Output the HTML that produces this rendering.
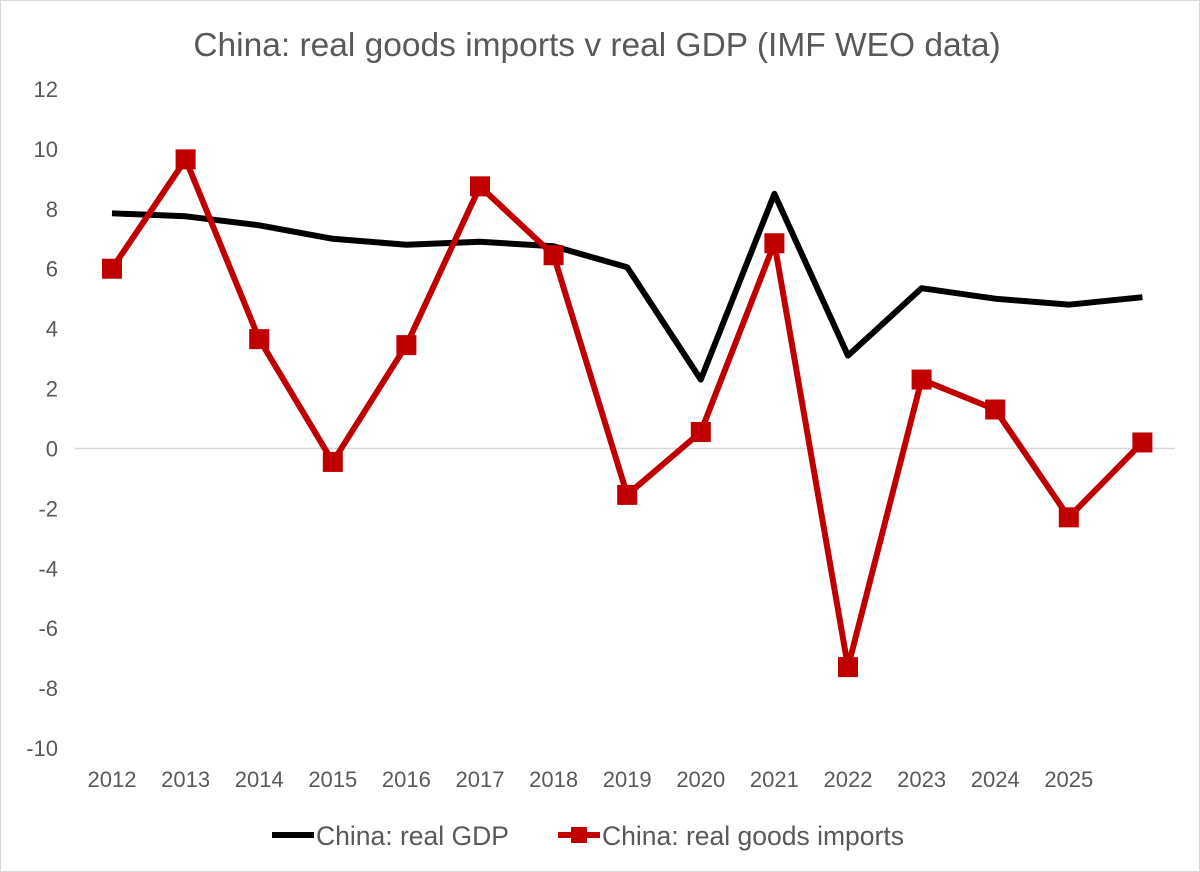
<!DOCTYPE html>
<html><head><meta charset="utf-8">
<style>
body{margin:0;background:#fff;}
svg{display:block;font-family:"Liberation Sans",Calibri,sans-serif;}
</style></head>
<body>
<svg id="chart" width="1200" height="872" viewBox="0 0 1200 872" xmlns="http://www.w3.org/2000/svg">
<rect x="0.5" y="0.5" width="1199" height="871" fill="#fff" stroke="#d9d9d9"/>
<text x="597" y="56" text-anchor="middle" font-size="33.5" fill="#595959">China: real goods imports v real GDP (IMF WEO data)</text>
<g id="grid"></g><g id="yticks"></g><g id="xticks"></g><g id="series"></g>
<g>
<line x1="272" y1="835" x2="314" y2="835" stroke="#000" stroke-width="6"/>
<text x="316" y="845" font-size="26.5" fill="#595959">China: real GDP</text>
<line x1="558" y1="835" x2="600" y2="835" stroke="#c00000" stroke-width="6"/>
<rect x="571" y="827" width="16" height="16" fill="#c00000"/>
<text x="602" y="845" font-size="26.5" fill="#595959">China: real goods imports</text>
</g>
</svg>
<script>
const years = [2012,2013,2014,2015,2016,2017,2018,2019,2020,2021,2022,2023,2024,2025,2026];
const xLabels = ["2012","2013","2014","2015","2016","2017","2018","2019","2020","2021","2022","2023","2024","2025"];
const gdp = [7.85,7.75,7.45,7.0,6.8,6.9,6.75,6.05,2.3,8.5,3.1,5.35,5.0,4.8,5.05];
const imports = [6.0,9.65,3.65,-0.45,3.45,8.75,6.45,-1.55,0.55,6.85,-7.3,2.3,1.3,-2.3,0.2];
const yTicks = [12,10,8,6,4,2,0,-2,-4,-6,-8,-10];

const NS="http://www.w3.org/2000/svg";
const x0=112, step=73.6, yMax=12, yMin=-10, yTop=89, yBot=748;
const xs=i=>x0+i*step;
const ys=v=>yTop+(yMax-v)/(yMax-yMin)*(yBot-yTop);
function mk(tag,attrs,parent){const e=document.createElementNS(NS,tag);for(const k in attrs)e.setAttribute(k,attrs[k]);document.getElementById(parent).appendChild(e);return e;}

const zl=mk('line',{x1:75,x2:1175,y1:ys(0),y2:ys(0),stroke:'#d9d9d9','stroke-width':1.5},'grid');



yTicks.forEach(v=>{
  const t=mk('text',{x:58,y:ys(v)+8,'text-anchor':'end','font-size':22,fill:'#595959'},'yticks');
  t.textContent=String(v);
  
  
});
xLabels.forEach((l,i)=>{
  const t=mk('text',{x:xs(i),y:787,'text-anchor':'middle','font-size':22,fill:'#595959'},'xticks');
  t.textContent=l;
  
  
});

const gp=mk('polyline',{points:gdp.map((v,i)=>xs(i)+','+ys(v)).join(' '),fill:'none',stroke:'#000','stroke-width':6,'stroke-linejoin':'round'},'series');



const ip=mk('polyline',{points:imports.map((v,i)=>xs(i)+','+ys(v)).join(' '),fill:'none',stroke:'#c00000','stroke-width':6,'stroke-linejoin':'round'},'series');



imports.forEach((v,i)=>{
  const r=mk('rect',{x:xs(i)-10,y:ys(v)-10,width:20,height:20,fill:'#c00000'},'series');
  
  
});
</script>
</body></html>
